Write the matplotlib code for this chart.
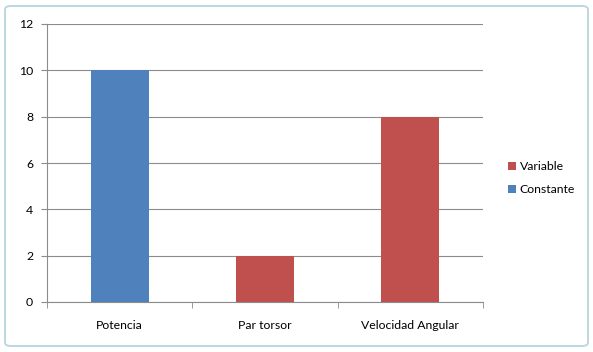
import numpy as np
import matplotlib.pyplot as plt
from matplotlib.patches import FancyBboxPatch

plt.rcParams['font.family'] = ['Lato', 'DejaVu Sans']

categories = ['Potencia', 'Par torsor', 'Velocidad Angular']
constante = [10, 0, 0]
variable = [0, 2, 8]
yticks = [0, 2, 4, 6, 8, 10, 12]

fig = plt.figure(figsize=(5.93, 3.52), dpi=100)
fig.patch.set_facecolor('white')

# chart frame
frame = FancyBboxPatch((5 / 593, 6 / 352), 583 / 593, 340 / 352,
                       boxstyle='round,pad=0,rounding_size=0.01',
                       transform=fig.transFigure, facecolor='none',
                       edgecolor='#bcd8e0', linewidth=1.4)
fig.patches.append(frame)

ax = fig.add_axes([47 / 593, 50 / 352, 436 / 593, 278 / 352])
x = np.arange(len(categories))
ax.bar(x, constante, width=0.4, color='#4f81bd', label='Constante', zorder=3)
ax.bar(x, variable, width=0.4, bottom=constante, color='#c0504d', label='Variable', zorder=3)

ax.set_xlim(-0.5, 2.5)
ax.set_ylim(0, 12)
ax.set_yticks(yticks)
ax.yaxis.grid(True, color='#8c8c8c', linewidth=0.8, zorder=0)
ax.set_xticks(x)
ax.set_xticklabels(categories)
ax.set_xticks([-0.5, 0.5, 1.5, 2.5], minor=True)
ax.tick_params(axis='x', which='major', length=0, pad=13, labelsize=8.8)
ax.tick_params(axis='x', which='minor', length=4, color='#8c8c8c')
ax.tick_params(axis='y', length=4, color='#8c8c8c', labelsize=8.8, pad=6)
for s in ['top', 'right']:
    ax.spines[s].set_visible(False)
for s in ['left', 'bottom']:
    ax.spines[s].set_color('#8c8c8c')

handles, labels = ax.get_legend_handles_labels()
leg = fig.legend(handles[::-1], labels[::-1], loc='center left',
                 bbox_to_anchor=(497 / 593, 1 - 178 / 352), frameon=False,
                 fontsize=8.8, handlelength=0.65, handleheight=0.65,
                 handletextpad=0.3, labelspacing=1.0)

fig.savefig('out.png', dpi=100)
